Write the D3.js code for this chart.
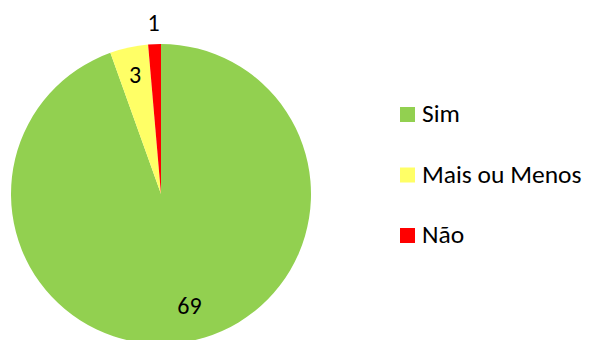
<!DOCTYPE html>
<html>
<head>
<meta charset="utf-8">
<script src="https://cdn.jsdelivr.net/npm/d3@7"></script>
<style>
  html, body { margin: 0; padding: 0; background: #fff; }
  svg { display: block; font-family: Carlito, Calibri, Lato, "Open Sans", sans-serif; }
</style>
</head>
<body>
<svg id="chart" width="592" height="340"></svg>
<script>
const categories = ["Sim", "Mais ou Menos", "Não"];
const values = [69, 3, 1];
const colors = ["#92D050", "#FFFF66", "#FF0000"];

const svg = d3.select("#chart");
const cx = 161, cy = 194, radius = 150;

const data = categories.map((c, i) => ({ name: c, value: values[i], color: colors[i] }));

const pie = d3.pie().value(d => d.value).sort(null);
const arcs = pie(data);
const arc = d3.arc().innerRadius(0).outerRadius(radius);

const g = svg.append("g").attr("transform", `translate(${cx},${cy})`);
g.selectAll("path").data(arcs).join("path")
  .attr("d", arc)
  .attr("fill", d => d.data.color);

// value labels: placed along each slice's mid-angle; the thin slice gets its label outside
const labelRadius = [0.76, 0.81, 1.14];
const labelShift = [9, 0, 0];
function labelXY(d, i) {
  const a = (d.startAngle + d.endAngle) / 2;
  const r = radius * labelRadius[i];
  return [Math.sin(a) * r + labelShift[i], -Math.cos(a) * r];
}
g.selectAll("text.val").data(arcs).join("text")
  .attr("class", "val")
  .attr("x", (d, i) => labelXY(d, i)[0])
  .attr("y", (d, i) => labelXY(d, i)[1] + 8)
  .attr("text-anchor", "middle")
  .attr("font-size", 24)
  .attr("fill", "#000")
  .text(d => d.data.value);

// legend
const legend = svg.append("g").attr("transform", "translate(400,0)");
const rowY = d3.scalePoint().domain(categories).range([122, 243]);
const items = legend.selectAll("g").data(data).join("g")
  .attr("transform", d => `translate(0,${rowY(d.name)})`);
items.append("rect")
  .attr("x", 0).attr("y", -15).attr("width", 15).attr("height", 15)
  .attr("fill", d => d.color);
items.append("text")
  .attr("x", 22).attr("y", 0)
  .attr("font-size", 25.5)
  .attr("fill", "#000")
  .text(d => d.name);
</script>
</body>
</html>
